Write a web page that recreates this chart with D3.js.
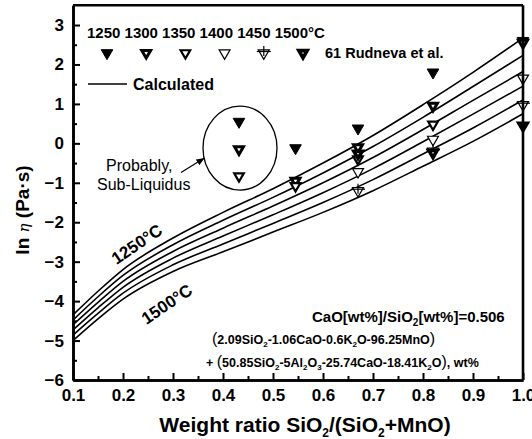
<!DOCTYPE html>
<html>
<head>
<meta charset="utf-8">
<script src="https://cdn.jsdelivr.net/npm/d3@7"></script>
<style>
  body { margin: 0; background: #fff; }
  text { font-family: 'Liberation Sans', Arial, sans-serif; font-weight: bold; fill: #000; }
</style>
</head>
<body>
<div id="chart"></div>
<script>
// calculated curves, ln(eta) at each weight ratio
var ratios = [0.1, 0.15, 0.2, 0.3, 0.4, 0.5, 0.6, 0.7, 0.8, 0.9, 1.0]
var calc1250 = [-4.35, -3.75, -3.2, -2.4, -1.75, -1.15, -0.5, 0.2, 0.98, 1.8, 2.67]
var calc1300 = [-4.48, -3.89, -3.35, -2.57, -1.95, -1.37, -0.75, -0.08, 0.66, 1.44, 2.23]
var calc1350 = [-4.6, -4.03, -3.5, -2.74, -2.15, -1.59, -1.0, -0.36, 0.35, 1.09, 1.82]
var calc1400 = [-4.73, -4.17, -3.65, -2.91, -2.35, -1.81, -1.25, -0.64, 0.04, 0.74, 1.45]
var calc1450 = [-4.86, -4.31, -3.8, -3.08, -2.55, -2.03, -1.5, -0.92, -0.27, 0.39, 1.1]
var calc1500 = [-5.0, -4.45, -3.95, -3.25, -2.75, -2.25, -1.75, -1.2, -0.58, 0.05, 0.75]

// measured points (Rudneva et al.), [ratio, ln eta]
var obs1250 = [[0.432, 0.55], [0.545, -0.12], [0.67, 0.38], [0.82, 1.8], [1.0, 2.6]]
var obs1300 = [[0.432, -0.15], [0.545, -0.95], [0.67, -0.1], [0.82, 0.95], [1.0, 2.55]]
var obs1350 = [[0.432, -0.83], [0.545, -1.08], [0.67, -0.4], [0.82, 0.48]]
var obs1400 = [[0.67, -0.72], [0.82, 0.1], [1.0, 1.65]]
var obs1450 = [[0.67, -1.2], [0.82, -0.2], [1.0, 0.98]]
var obs1500 = [[0.67, -0.26], [0.82, -0.24], [1.0, 0.45]]

var temps = ['1250', '1300', '1350', '1400', '1450', '1500']
var xTicks = [0.1, 0.2, 0.3, 0.4, 0.5, 0.6, 0.7, 0.8, 0.9, 1.0]
var xMinor = [0.15, 0.25, 0.35, 0.45, 0.55, 0.65, 0.75, 0.85, 0.95]
var yTicks = [-6, -5, -4, -3, -2, -1, 0, 1, 2, 3]
var yMinor = [-5.5, -4.5, -3.5, -2.5, -1.5, -0.5, 0.5, 1.5, 2.5]

var calc = [calc1250, calc1300, calc1350, calc1400, calc1450, calc1500]
var obs = [obs1250, obs1300, obs1350, obs1400, obs1450, obs1500]

var margin = { top: 5.3, left: 73, right: 9, bottom: 59 }
var width = 532 - margin.left - margin.right
var height = 439 - margin.top - margin.bottom

var svg = d3
  .select('#chart')
  .append('svg')
  .attr('width', 532)
  .attr('height', 439)
  .append('g')
  .attr('transform', `translate(${margin.left},${margin.top})`)

var xPositionScale = d3.scaleLinear().domain([0.1, 1.0]).range([0, width])
var yPositionScale = d3.scaleLinear().domain([-6, 3.5]).range([height, 0])

// marker look per temperature
var markerStyle = {
  '1250': { fill: '#000', sw: 1, size: 58 },
  '1300': { fill: '#fff', sw: 3, size: 34 },
  '1350': { fill: '#fff', sw: 2.2, size: 40 },
  '1400': { fill: '#fff', sw: 1.2, size: 52 },
  '1450': { fill: '#fff', sw: 1.2, size: 52 },
  '1500': { fill: '#fff', sw: 3.6, size: 30 }
}

function drawMarker(g, t) {
  var st = markerStyle[t]
  g.append('path')
    .attr('d', d3.symbol().type(d3.symbolTriangle).size(st.size)())
    .attr('transform', 'rotate(180)')
    .attr('fill', st.fill)
    .attr('stroke', '#000')
    .attr('stroke-width', st.sw)
    .attr('stroke-linejoin', 'miter')
  if (t === '1450') {
    g.append('line').attr('x1', -7).attr('x2', 7).attr('y1', -1.5).attr('y2', -1.5)
      .attr('stroke', '#000').attr('stroke-width', 1.2)
    g.append('line').attr('x1', 0).attr('x2', 0).attr('y1', -7).attr('y2', 3)
      .attr('stroke', '#000').attr('stroke-width', 1.2)
  }
}

// curves
var line = d3
  .line()
  .x((d, i) => xPositionScale(ratios[i]))
  .y(d => yPositionScale(d))
  .curve(d3.curveMonotoneX)

svg
  .selectAll('.calc-line')
  .data(calc)
  .enter()
  .append('path')
  .attr('class', 'calc-line')
  .attr('d', d => line(d))
  .attr('fill', 'none')
  .attr('stroke', '#000')
  .attr('stroke-width', 1.6)

// measured points
temps.forEach((t, i) => {
  svg
    .selectAll('.obs-' + t)
    .data(obs[i])
    .enter()
    .append('g')
    .attr('class', 'obs-' + t)
    .attr('transform', d => `translate(${xPositionScale(d[0])},${yPositionScale(d[1])})`)
    .each(function() {
      drawMarker(d3.select(this), t)
    })
})

// sub-liquidus ellipse + arrow
svg
  .append('ellipse')
  .attr('cx', xPositionScale(0.434))
  .attr('cy', yPositionScale(-0.12))
  .attr('rx', xPositionScale(0.434 + 0.074) - xPositionScale(0.434))
  .attr('ry', yPositionScale(-0.12) - yPositionScale(0.945))
  .attr('fill', 'none')
  .attr('stroke', '#000')
  .attr('stroke-width', 1.3)

svg
  .append('defs')
  .append('marker')
  .attr('id', 'arrow')
  .attr('viewBox', '0 0 10 10')
  .attr('refX', 9)
  .attr('refY', 5)
  .attr('markerWidth', 7)
  .attr('markerHeight', 7)
  .attr('orient', 'auto')
  .append('path')
  .attr('d', 'M0,1L10,5L0,9z')
  .attr('fill', '#000')

svg
  .append('line')
  .attr('x1', xPositionScale(0.316))
  .attr('y1', yPositionScale(-0.74))
  .attr('x2', xPositionScale(0.362))
  .attr('y2', yPositionScale(-0.38))
  .attr('stroke', '#000')
  .attr('stroke-width', 1.2)
  .attr('marker-end', 'url(#arrow)')

svg
  .append('text')
  .attr('x', 106 - margin.left)
  .attr('y', 171 - margin.top)
  .attr('font-size', 16)
  .style('font-weight', 'normal')
  .text('Probably,')

svg
  .append('text')
  .attr('x', 97 - margin.left)
  .attr('y', 190 - margin.top)
  .attr('font-size', 16)
  .style('font-weight', 'normal')
  .text('Sub-Liquidus')

// curve labels
svg
  .append('text')
  .attr('transform', `translate(${xPositionScale(0.234)},${yPositionScale(-2.68)}) rotate(-34)`)
  .attr('text-anchor', 'middle')
  .attr('font-size', 17)
  .text('1250°C')

svg
  .append('text')
  .attr('transform', `translate(${xPositionScale(0.294)},${yPositionScale(-4.2)}) rotate(-34)`)
  .attr('text-anchor', 'middle')
  .attr('font-size', 17)
  .text('1500°C')

// composition text
var ratioText = svg
  .append('text')
  .attr('x', 312 - margin.left)
  .attr('y', 322 - margin.top)
  .attr('font-size', 15)
ratioText.append('tspan').text('CaO[wt%]/SiO')
ratioText.append('tspan').attr('font-size', 10).attr('dy', 4).text('2')
ratioText.append('tspan').attr('dy', -4).text('[wt%]=0.506')

var comp1 = svg
  .append('text')
  .attr('x', 212 - margin.left)
  .attr('y', 344 - margin.top)
  .attr('font-size', 12.5)
comp1.append('tspan').attr('font-size', 16).style('font-weight', 'normal').text('(')
comp1.append('tspan').text('2.09SiO')
comp1.append('tspan').attr('font-size', 8).attr('dy', 3).text('2')
comp1.append('tspan').attr('dy', -3).text('-1.06CaO-0.6K')
comp1.append('tspan').attr('font-size', 8).attr('dy', 3).text('2')
comp1.append('tspan').attr('dy', -3).text('O-96.25MnO')
comp1.append('tspan').attr('font-size', 16).style('font-weight', 'normal').text(')')

var comp2 = svg
  .append('text')
  .attr('x', 206 - margin.left)
  .attr('y', 367 - margin.top)
  .attr('font-size', 12.5)
comp2.append('tspan').text('+ ')
comp2.append('tspan').attr('font-size', 16).style('font-weight', 'normal').text('(')
comp2.append('tspan').text('50.85SiO')
comp2.append('tspan').attr('font-size', 8).attr('dy', 3).text('2')
comp2.append('tspan').attr('dy', -3).text('-5Al')
comp2.append('tspan').attr('font-size', 8).attr('dy', 3).text('2')
comp2.append('tspan').attr('dy', -3).text('O')
comp2.append('tspan').attr('font-size', 8).attr('dy', 3).text('3')
comp2.append('tspan').attr('dy', -3).text('-25.74CaO-18.41K')
comp2.append('tspan').attr('font-size', 8).attr('dy', 3).text('2')
comp2.append('tspan').attr('dy', -3).text('O')
comp2.append('tspan').attr('font-size', 16).style('font-weight', 'normal').text(')')
comp2.append('tspan').text(', wt%')

// legend
var legendScale = d3.scalePoint().domain(temps).range([107 - margin.left, 303 - margin.left])

svg
  .append('text')
  .attr('x', 87 - margin.left)
  .attr('y', 38 - margin.top)
  .attr('font-size', 15)
  .text('1250 1300 1350 1400 1450 1500°C')

svg
  .selectAll('.legend-marker')
  .data(temps)
  .enter()
  .append('g')
  .attr('class', 'legend-marker')
  .attr('transform', d => `translate(${legendScale(d)},${53 - margin.top})`)
  .each(function(d) {
    drawMarker(d3.select(this), d)
  })

svg
  .append('text')
  .attr('x', 325 - margin.left)
  .attr('y', 58 - margin.top)
  .attr('font-size', 14.5)
  .text('61 Rudneva et al.')

svg
  .append('line')
  .attr('x1', 88 - margin.left)
  .attr('x2', 127 - margin.left)
  .attr('y1', 84 - margin.top)
  .attr('y2', 84 - margin.top)
  .attr('stroke', '#000')
  .attr('stroke-width', 1.6)

svg
  .append('text')
  .attr('x', 133 - margin.left)
  .attr('y', 90 - margin.top)
  .attr('font-size', 16)
  .text('Calculated')

// axes
var xAxis = d3.axisBottom(xPositionScale).tickValues(xTicks).tickSize(-7).tickSizeOuter(0).tickPadding(9)
  .tickFormat(d3.format('.1f'))
var xAxisMinor = d3.axisBottom(xPositionScale).tickValues(xMinor).tickSize(-4).tickSizeOuter(0).tickFormat('')

svg.append('g').attr('class', 'axis x-axis').attr('transform', `translate(0,${height})`).call(xAxis)
svg.append('g').attr('class', 'axis x-minor').attr('transform', `translate(0,${height})`).call(xAxisMinor)

var yAxis = d3.axisLeft(yPositionScale).tickValues(yTicks).tickSize(-7).tickSizeOuter(0).tickPadding(9)
var yAxisMinor = d3.axisLeft(yPositionScale).tickValues(yMinor).tickSize(-4).tickSizeOuter(0).tickFormat('')

svg.append('g').attr('class', 'axis y-axis').call(yAxis)
svg.append('g').attr('class', 'axis y-minor').call(yAxisMinor)

svg.selectAll('.axis .domain').attr('stroke-width', 2.6)
svg.selectAll('.axis .tick line').attr('stroke-width', 2)
svg.selectAll('.axis text')
  .attr('font-size', 17)
  .attr('font-family', "'Liberation Sans', Arial, sans-serif")
  .attr('font-weight', 'bold')

// top and right frame
svg.append('line')
  .attr('x1', 0).attr('x2', width)
  .attr('y1', yPositionScale(3.5)).attr('y2', yPositionScale(3.5))
  .attr('stroke', '#000').attr('stroke-width', 2.6)
svg.append('line')
  .attr('x1', xPositionScale(1.0)).attr('x2', xPositionScale(1.0))
  .attr('y1', 0).attr('y2', height)
  .attr('stroke', '#000').attr('stroke-width', 2.6)

// axis titles
var xTitle = svg
  .append('text')
  .attr('x', width / 2 + 7)
  .attr('y', height + 52)
  .attr('text-anchor', 'middle')
  .attr('font-size', 21)
xTitle.append('tspan').text('Weight ratio SiO')
xTitle.append('tspan').attr('font-size', 12).attr('dy', 5).text('2')
xTitle.append('tspan').attr('dy', -5).text('/(SiO')
xTitle.append('tspan').attr('font-size', 12).attr('dy', 5).text('2')
xTitle.append('tspan').attr('dy', -5).text('+MnO)')

var yTitle = svg
  .append('text')
  .attr('transform', `translate(${-44},${210 - margin.top}) rotate(-90)`)
  .attr('text-anchor', 'middle')
  .attr('font-size', 19)
yTitle.append('tspan').text('ln ')
yTitle.append('tspan')
  .attr('font-family', "'DejaVu Serif', serif")
  .style('font-style', 'italic')
  .style('font-weight', 'normal')
  .attr('font-size', 15)
  .text('η')
yTitle.append('tspan').text(' (Pa·s)')
</script>
</body>
</html>
